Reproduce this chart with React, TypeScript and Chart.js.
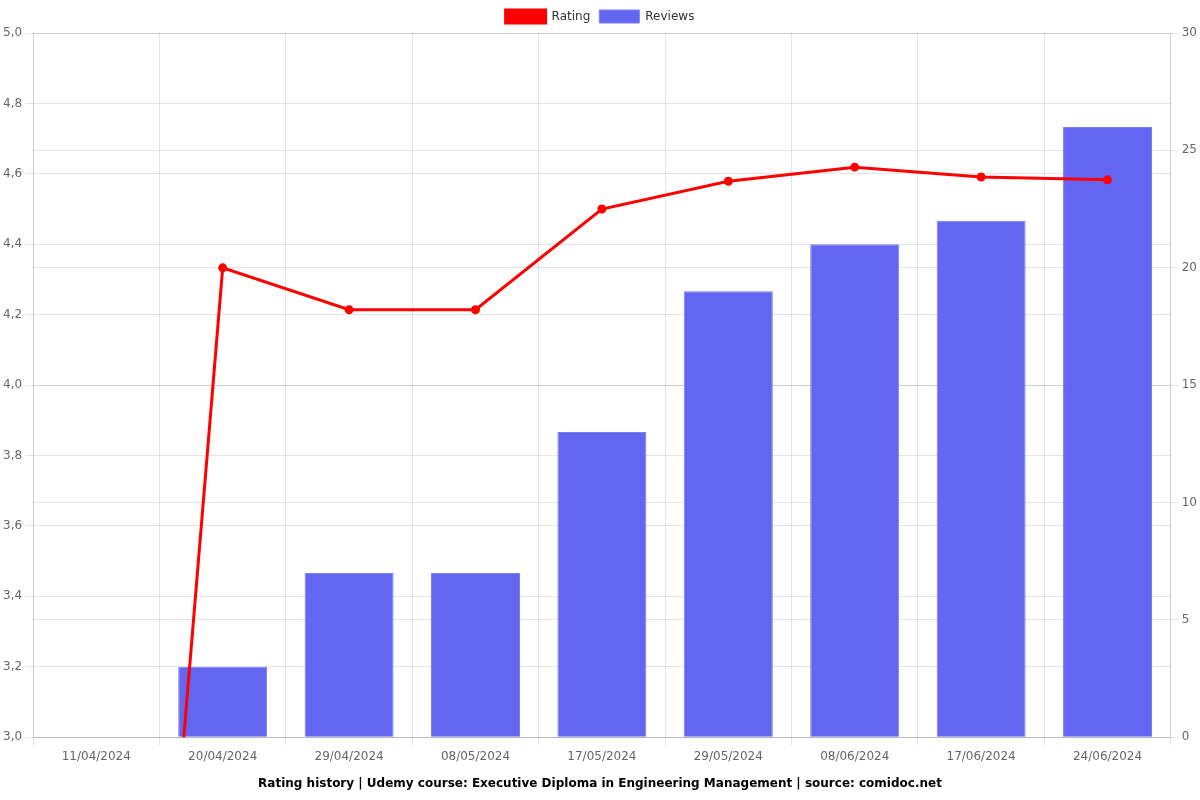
import React, { useEffect, useRef } from "react";
import { Chart, registerables } from "chart.js";

Chart.register(...registerables);

const categories = ["11/04/2024", "20/04/2024", "29/04/2024", "08/05/2024", "17/05/2024", "29/05/2024", "08/06/2024", "17/06/2024", "24/06/2024"];
const ratingValues = [0, 4.333, 4.214, 4.214, 4.5, 4.579, 4.619, 4.591, 4.583];
const reviewValues = [0, 3, 7, 7, 13, 19, 21, 22, 26];
const titleText = "Rating history | Udemy course: Executive Diploma in Engineering Management | source: comidoc.net";

export default function App() {
  const ref = useRef<HTMLCanvasElement | null>(null);
  useEffect(() => {
    if (!ref.current) return;
    Chart.defaults.font.family = "'DejaVu Sans', sans-serif";
    const chart = new Chart(ref.current, {
      type: "bar",
      data: {
        labels: categories,
        datasets: [
          {
            type: "line",
            label: "Rating",
            data: ratingValues,
            yAxisID: "y",
            borderColor: "#ff0000",
            backgroundColor: "#ff0000",
            borderWidth: 3,
            pointRadius: 3,
            pointBackgroundColor: "#ff0000",
            tension: 0,
            order: 0,
          },
          {
            type: "bar",
            label: "Reviews",
            data: reviewValues,
            yAxisID: "y1",
            backgroundColor: "#6366f1",
            borderColor: "#7b7ef3",
            borderWidth: 1,
            categoryPercentage: 0.8,
            barPercentage: 0.88,
            order: 1,
          },
        ],
      },
      options: {
        animation: false,
        responsive: false,
        maintainAspectRatio: false,
        layout: { padding: { top: 1 } },
        plugins: {
          legend: {
            position: "top",
            labels: { color: "#333", font: { size: 12 }, boxWidth: 40, boxHeight: 13, padding: 9 },
          },
          title: {
            display: true,
            text: titleText,
            position: "bottom",
            color: "#000",
            font: { size: 12, weight: "bold" },
            padding: { top: 9, bottom: 9 },
          },
          tooltip: { enabled: false },
        },
        scales: {
          x: {
            grid: { offset: true, color: "rgba(0,0,0,0.1)" },
            ticks: { color: "#666", font: { size: 12 }, padding: 4 },
          },
          y: {
            position: "left",
            min: 3,
            max: 5,
            ticks: {
              stepSize: 0.2,
              color: "#666",
              font: { size: 12 },
              callback: (v: any) => Number(v).toFixed(1).replace(".", ","),
            },
            grid: { color: "rgba(0,0,0,0.1)" },
          },
          y1: {
            position: "right",
            min: 0,
            max: 30,
            ticks: { stepSize: 5, color: "#666", font: { size: 12 } },
            grid: { color: "rgba(0,0,0,0.1)" },
          },
        },
      },
    });
    return () => chart.destroy();
  }, []);
  return (
    <div style={{ position: "absolute", left: 0, top: 0, width: 1200, height: 800, background: "#fff" }}>
      <canvas ref={ref} width={1200} height={800} style={{ width: 1200, height: 800 }} />
    </div>
  );
}
